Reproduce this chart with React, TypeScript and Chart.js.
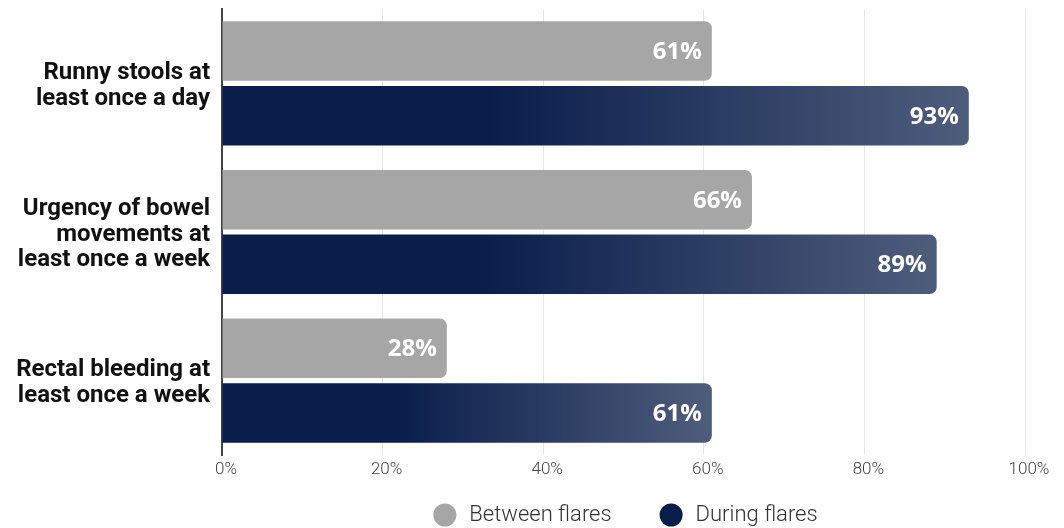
import React, { useEffect, useRef } from "react";
import { Chart, registerables } from "chart.js";

Chart.register(...registerables);

const categories: string[][] = [
  ["Runny stools at", "least once a day"],
  ["Urgency of bowel", "movements at", "least once a week"],
  ["Rectal bleeding at", "least once a week"],
];
const betweenFlares = [61, 66, 28];
const duringFlares = [93, 89, 61];
const seriesNames = ["Between flares", "During flares"];
const tickValues = [0, 20, 40, 60, 80, 100];

const GRAY = "#a6a6a6";
const NAVY = "#0a1e4b";
const NAVY_END = "#4f5d7c";

const valueLabels = {
  id: "valueLabels",
  afterDatasetsDraw(chart: any) {
    const ctx = chart.ctx;
    ctx.save();
    ctx.font = "bold 24px 'Open Sans'";
    ctx.fillStyle = "#ffffff";
    ctx.textAlign = "right";
    ctx.textBaseline = "middle";
    chart.data.datasets.forEach((ds: any, di: number) => {
      const meta = chart.getDatasetMeta(di);
      meta.data.forEach((bar: any, i: number) => {
        ctx.fillText(ds.data[i] + "%", bar.x - 10, bar.y + 1);
      });
    });
    ctx.restore();
  },
};

const customLegend = {
  id: "customLegend",
  afterDraw(chart: any) {
    const ctx = chart.ctx;
    ctx.save();
    ctx.font = "300 22px Roboto";
    ctx.textBaseline = "middle";
    ctx.textAlign = "left";
    const y = 515;
    const r = 11.5;
    const gapCircleText = 13;
    const gapItems = 48;
    const items = chart.data.datasets.map((ds: any) => ({
      label: ds.label,
      color: ds.legendColor,
      w: ctx.measureText(ds.label).width,
    }));
    const total = items.reduce((s: number, it: any) => s + 2 * r + gapCircleText + it.w, 0) + gapItems * (items.length - 1);
    let x = (chart.chartArea.left + chart.chartArea.right) / 2 - total / 2 + 2;
    items.forEach((it: any) => {
      ctx.beginPath();
      ctx.fillStyle = it.color;
      ctx.arc(x + r, y, r, 0, Math.PI * 2);
      ctx.fill();
      ctx.fillStyle = "#333333";
      ctx.fillText(it.label, x + 2 * r + gapCircleText, y);
      x += 2 * r + gapCircleText + it.w + gapItems;
    });
    ctx.restore();
  },
};

function navyGradient(context: any) {
  const chart = context.chart;
  const area = chart.chartArea;
  if (!area || !chart.scales.x) return NAVY;
  const v = context.raw as number;
  const x0 = chart.scales.x.getPixelForValue(0);
  const x1 = chart.scales.x.getPixelForValue(v);
  const g = chart.ctx.createLinearGradient(x0, 0, x1, 0);
  g.addColorStop(0, NAVY);
  g.addColorStop(0.36, NAVY);
  g.addColorStop(1, NAVY_END);
  return g;
}

export default function App() {
  const ref = useRef<HTMLCanvasElement | null>(null);
  useEffect(() => {
    if (!ref.current) return;
    const chart = new Chart(ref.current, {
      type: "bar",
      data: {
        labels: categories,
        datasets: [
          {
            label: seriesNames[0],
            data: betweenFlares,
            backgroundColor: GRAY,
            legendColor: GRAY,
            borderRadius: { topRight: 7, bottomRight: 7, topLeft: 0, bottomLeft: 0 },
            borderSkipped: false,
            barPercentage: 0.92,
            categoryPercentage: 0.87,
          } as any,
          {
            label: seriesNames[1],
            data: duringFlares,
            backgroundColor: navyGradient,
            legendColor: NAVY,
            borderRadius: { topRight: 7, bottomRight: 7, topLeft: 0, bottomLeft: 0 },
            borderSkipped: false,
            barPercentage: 0.92,
            categoryPercentage: 0.87,
          } as any,
        ],
      },
      options: {
        indexAxis: "y",
        animation: false,
        responsive: true,
        maintainAspectRatio: false,
        layout: { padding: { top: 9, right: 39, bottom: 48, left: 0 } },
        plugins: {
          legend: { display: false },
          tooltip: { enabled: false },
        },
        scales: {
          x: {
            min: 0,
            max: 100,
            afterBuildTicks: (scale: any) => {
              scale.ticks = tickValues.map((v) => ({ value: v }));
            },
            afterFit: (scale: any) => {
              scale.height = 25;
              scale.paddingLeft = 0;
              scale.paddingRight = 0;
            },
            grid: { color: "#e8e8e8", lineWidth: 1, drawTicks: false },
            border: { display: false },
            ticks: {
              padding: 5,
              labelOffset: 4,
              color: "#444444",
              font: { family: "Roboto", size: 17, weight: "300" },
              callback: (v: any) => v + "%",
            },
          },
          y: {
            afterFit: (scale: any) => {
              scale.width = 222;
              scale.paddingTop = 0;
              scale.paddingBottom = 0;
            },
            grid: { display: false, drawTicks: false },
            border: { display: true, color: "#444444", width: 2 },
            ticks: {
              padding: 12,
              labelOffset: 2.5,
              color: "#111111",
              font: { family: "Roboto", size: 24, weight: "bold", lineHeight: 1.06 },
            },
          },
        },
      },
      plugins: [valueLabels, customLegend],
    });
    return () => chart.destroy();
  }, []);
  return (
    <div style={{ position: "fixed", left: 0, top: 0, width: 1064, height: 528, background: "#fff" }}>
      <canvas ref={ref} />
    </div>
  );
}
